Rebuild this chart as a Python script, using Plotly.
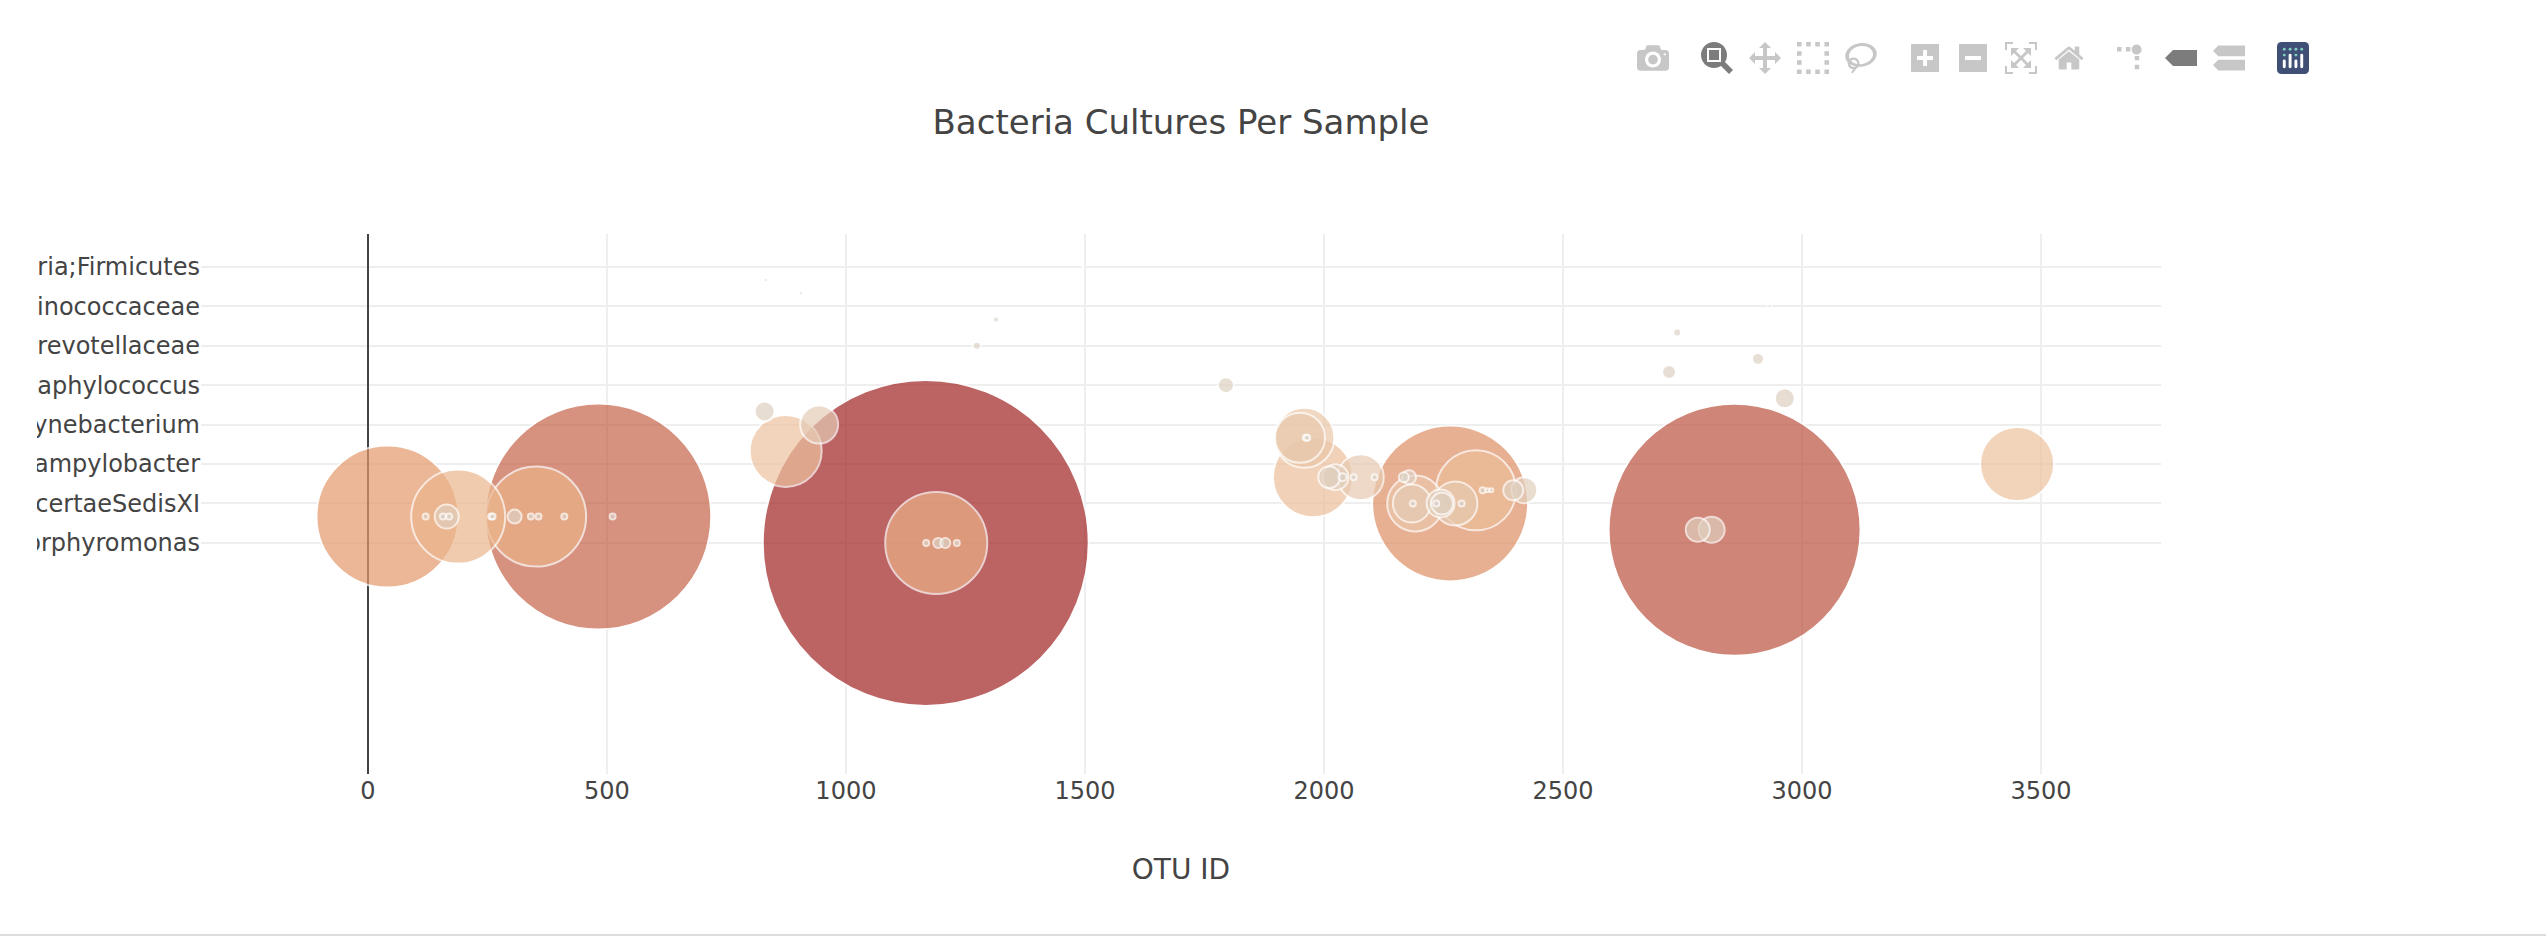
import plotly.graph_objects as go

categories = [
    "Bacteria;Bacteroidetes;Bacteroidia;Bacteroidales;Porphyromonadaceae;Porphyromonas",
    "Bacteria;Firmicutes;Clostridia;Clostridiales;IncertaeSedisXI;Peptoniphilus",
    "Bacteria;Firmicutes;Clostridia;Clostridiales;IncertaeSedisXI;Anaerococcus",
    "Bacteria;Firmicutes;Clostridia;Clostridiales;IncertaeSedisXI",
    "Bacteria;Bacteroidetes;Bacteroidia;Bacteroidales;Porphyromonadaceae",
    "Bacteria;Firmicutes;Clostridia;Clostridiales;IncertaeSedisXI;Finegoldia",
    "Bacteria;Proteobacteria;Epsilonproteobacteria;Campylobacterales;Campylobacteraceae;Campylobacter",
    "Bacteria;Bacteroidetes;Bacteroidia;Bacteroidales;Prevotellaceae;Prevotella",
    "Bacteria;Firmicutes;Clostridia;Clostridiales",
    "Bacteria;Actinobacteria;Actinobacteria;Actinomycetales;Corynebacteriaceae;Corynebacterium",
    "Bacteria;Firmicutes;Clostridia",
    "Bacteria;Firmicutes;Clostridia;Clostridiales;Ruminococcaceae;Ruminococcus",
    "Bacteria;Firmicutes;Bacilli;Bacillales;Staphylococcaceae;Staphylococcus",
    "Bacteria;Firmicutes;Bacilli;Bacillales",
    "Bacteria;Bacteroidetes;Bacteroidia;Bacteroidales",
    "Bacteria;Bacteroidetes;Bacteroidia;Bacteroidales;Prevotellaceae",
    "Bacteria;Firmicutes;Clostridia;Clostridiales;Lachnospiraceae",
    "Bacteria;Firmicutes;Bacilli;Lactobacillales",
    "Bacteria;Firmicutes;Clostridia;Clostridiales;Ruminococcaceae",
    "Bacteria;Actinobacteria;Actinobacteria;Actinomycetales",
    "Bacteria;Proteobacteria",
    "Bacteria;Firmicutes",
]

otu_ids = [1167, 2859, 482, 2264, 41, 1189, 352, 189, 2318, 1977, 3450, 874,
           1959, 2191, 1950, 2077, 2275, 944, 2184, 2244, 2024, 2419, 2811, 165,
           2782, 2247, 2011, 2396, 830, 2964, 1795, 2722, 307, 2178, 2908, 1193,
           2167, 1208, 2039, 1274, 2739, 2235, 1314, 1962, 2186, 2332, 2932, 906,
           832, 2471, 2480, 2486, 2288, 157, 2567, 2350, 2342, 2541, 1168, 1232,
           1965, 170, 258, 261, 121, 341, 357, 411, 512, 723, 2062, 2106, 1496]
sample_values = [163, 126, 113, 78, 71, 51, 50, 47, 40, 40, 37, 36,
                 30, 28, 25, 23, 22, 19, 19, 14, 13, 13, 13, 12,
                 12, 11, 11, 10, 10, 10, 8, 7, 7, 7, 6, 5,
                 5, 5, 4, 4, 4, 3, 3, 3, 3, 3, 2, 2,
                 2, 1, 1, 1, 3, 3, 1, 2, 2, 1, 3, 3,
                 3, 3, 3, 3, 3, 3, 3, 3, 3, 1, 3, 3, 1]
category_index = [0, 1, 2, 3, 2, 0, 2, 2, 4, 5, 6, 7,
                  8, 3, 8, 5, 3, 9, 3, 3, 5, 4, 1, 2,
                  1, 3, 5, 4, 10, 11, 12, 13, 2, 5, 14, 0,
                  5, 0, 5, 15, 16, 3, 17, 8, 3, 4, 18, 19,
                  20, 4, 4, 4, 3, 2, 4, 4, 4, 4, 0, 0,
                  8, 2, 2, 2, 2, 2, 2, 2, 2, 10, 5, 5, 21]
color_scale = [[0, "rgb(218,212,204)"], [0.2, "rgb(237,198,164)"],
               [0.4, "rgb(232,160,110)"], [1, "rgb(161,34,34)"]]

fig = go.Figure(go.Scatter(
    x=otu_ids,
    y=[categories[i] for i in category_index],
    mode="markers",
    marker=dict(size=sample_values, sizemode="diameter", sizeref=0.5,
                color=sample_values, colorscale=color_scale, opacity=0.7,
                line=dict(color="white", width=2)),
))

fig.update_layout(
    template="none",
    width=2288, height=900,
    autosize=False,
    margin=dict(l=164, r=164, t=234, b=126),
    font=dict(family="'DejaVu Sans', verdana, arial, sans-serif", color="#444"),
    title=dict(text="Bacteria Cultures Per Sample", font=dict(size=34),
               x=0.5, xanchor="center", y=1 - 122 / 900, yanchor="middle"),
    xaxis=dict(title=dict(text="OTU ID", font=dict(size=28), standoff=55),
               range=[-349, 3751], dtick=500, tickfont=dict(size=24),
               gridcolor="#eee", gridwidth=2, zeroline=True,
               zerolinecolor="#444", zerolinewidth=2, showline=False, ticks=""),
    yaxis=dict(type="category", categoryorder="array", categoryarray=categories,
               range=[-17.58, 23.5], tickmode="linear", tick0=0, dtick=3,
               tickfont=dict(size=24), gridcolor="#eee", gridwidth=2,
               zeroline=False, showline=False, ticks=""),
    showlegend=False,
)

post = """
document.body.style.margin = '0';
var gd = document.getElementById('{plot_id}');
gd.style.position = 'absolute';
gd.style.left = '37px';
gd.style.top = '0px';
var mb = gd.querySelector('.modebar');
if (mb) { mb.style.transform = 'scale(2)'; mb.style.transformOrigin = 'top right'; mb.style.right = '8px'; mb.style.top = '36px'; }
var logo = gd.querySelector('.modebar-btn--logo svg');
if (logo) {
  logo.querySelectorAll('rect').forEach(function (e) { e.style.fill = '#3f4f75'; });
  logo.querySelectorAll('circle').forEach(function (e) { e.style.fill = '#80cfbe'; });
  logo.querySelectorAll('path').forEach(function (e) { e.style.fill = '#fff'; });
}
var hr = document.createElement('div');
hr.style.cssText = 'position:absolute;left:0;top:934px;width:100%;height:2px;background:#ddd';
document.body.appendChild(hr);
"""

fig.write_html("out.html",
               config=dict(displayModeBar=True, modeBarButtonsToAdd=["togglespikelines", "v1hovermode"]),
               post_script=post)
